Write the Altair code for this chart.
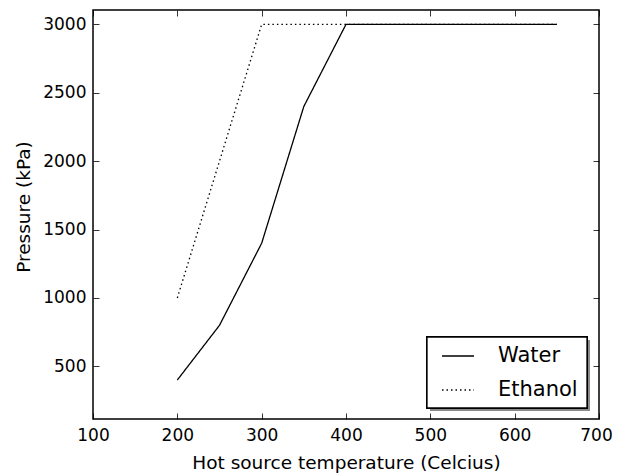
import altair as alt
import pandas as pd

temps = [200, 250, 300, 350, 400, 450, 500, 550, 600, 650]
water = [400, 800, 1400, 2400, 3000, 3000, 3000, 3000, 3000, 3000]
ethanol = [1000, 2000, 3000, 3000, 3000, 3000, 3000, 3000, 3000, 3000]
series = ["Water", "Ethanol"]
x_ticks = [100, 200, 300, 400, 500, 600, 700]
y_ticks = [500, 1000, 1500, 2000, 2500, 3000]

rows = []
for name, vals in zip(series, [water, ethanol]):
    for t, v in zip(temps, vals):
        rows.append({"temp": t, "pressure": v, "fluid": name})
df = pd.DataFrame(rows)

W, H = 506, 409
FONT = "DejaVu Sans"

xscale = alt.Scale(domain=[100, 700], nice=False, zero=False)
yscale = alt.Scale(domain=[115, 3105], nice=False, zero=False)

common_axis = dict(domain=False, grid=False, tickSize=6, tickWidth=0.8,
                   tickColor="black", offset=-6, labelFlush=False, format="d")

x_bottom = alt.X("temp:Q", scale=xscale,
                 axis=alt.Axis(values=x_ticks, orient="bottom",
                               title="Hot source temperature (Celcius)",
                               labelFontSize=17, labelFont=FONT, labelColor="black",
                               labelPadding=8,
                               labelOffset={"condition": {"test": "datum.value === 700", "value": -3},
                                            "value": 0},
                               titleFontSize=18.5, titleFont=FONT,
                               titleFontWeight="normal", titleColor="black",
                               titleBaseline="alphabetic", titleY=55,
                               **common_axis))
y_left = alt.Y("pressure:Q", scale=yscale,
               axis=alt.Axis(values=y_ticks, orient="left",
                             title="Pressure (kPa)",
                             labelFontSize=17, labelFont=FONT, labelColor="black",
                             labelPadding=7, titleFontSize=18.5, titleFont=FONT,
                             titleFontWeight="normal", titleColor="black",
                             titleBaseline="alphabetic", titleAngle=270,
                             titleX=-70, titleY=H / 2 - 8, titleAlign="center",
                             **common_axis))

lines = alt.Chart(df).mark_line(color="black", strokeWidth=1.3).encode(
    x=x_bottom,
    y=y_left,
    strokeDash=alt.StrokeDash(
        "fluid:N",
        scale=alt.Scale(domain=series, range=[[1, 0], [1.5, 3]]),
        legend=alt.Legend(title=None, orient="none", legendX=348, legendY=329,
                          symbolType="stroke", symbolSize=1024,
                          symbolStrokeWidth=1.3, symbolStrokeColor="black",
                          labelFontSize=21, labelFont=FONT, labelColor="black",
                          labelOffset=23, padding=0, rowPadding=7,
                          symbolOpacity=1),
    ),
    order="temp:Q",
)

frame_axes = alt.Chart(df).mark_point(opacity=0).encode(
    x=alt.X("temp:Q", scale=xscale,
            axis=alt.Axis(values=x_ticks, orient="top", labels=False, title=None,
                          **common_axis)),
    y=alt.Y("pressure:Q", scale=yscale,
            axis=alt.Axis(values=y_ticks, orient="right", labels=False, title=None,
                          **common_axis)),
)

# legend frame decoration (shadow + white box with black border)
shadow = alt.Chart(df).mark_rect(color="#8a8a8a", opacity=0.85).encode(
    x=alt.value(337), x2=alt.value(497), y=alt.value(330), y2=alt.value(401)
)
box = alt.Chart(df).mark_rect(fill="white", stroke="black", strokeWidth=1.3).encode(
    x=alt.value(334), x2=alt.value(494), y=alt.value(327), y2=alt.value(398)
)

chart = alt.layer(lines, shadow, box, frame_axes).resolve_axis(
    x="independent", y="independent"
).properties(
    width=W, height=H,
    autosize=alt.AutoSizeParams(type="none"),
    padding={"left": 85, "top": 2, "right": 14, "bottom": 56},
    background="white",
).configure_view(stroke="black", strokeWidth=1.5)

chart.save("out.html", embed_options={"renderer": "svg", "actions": False})
